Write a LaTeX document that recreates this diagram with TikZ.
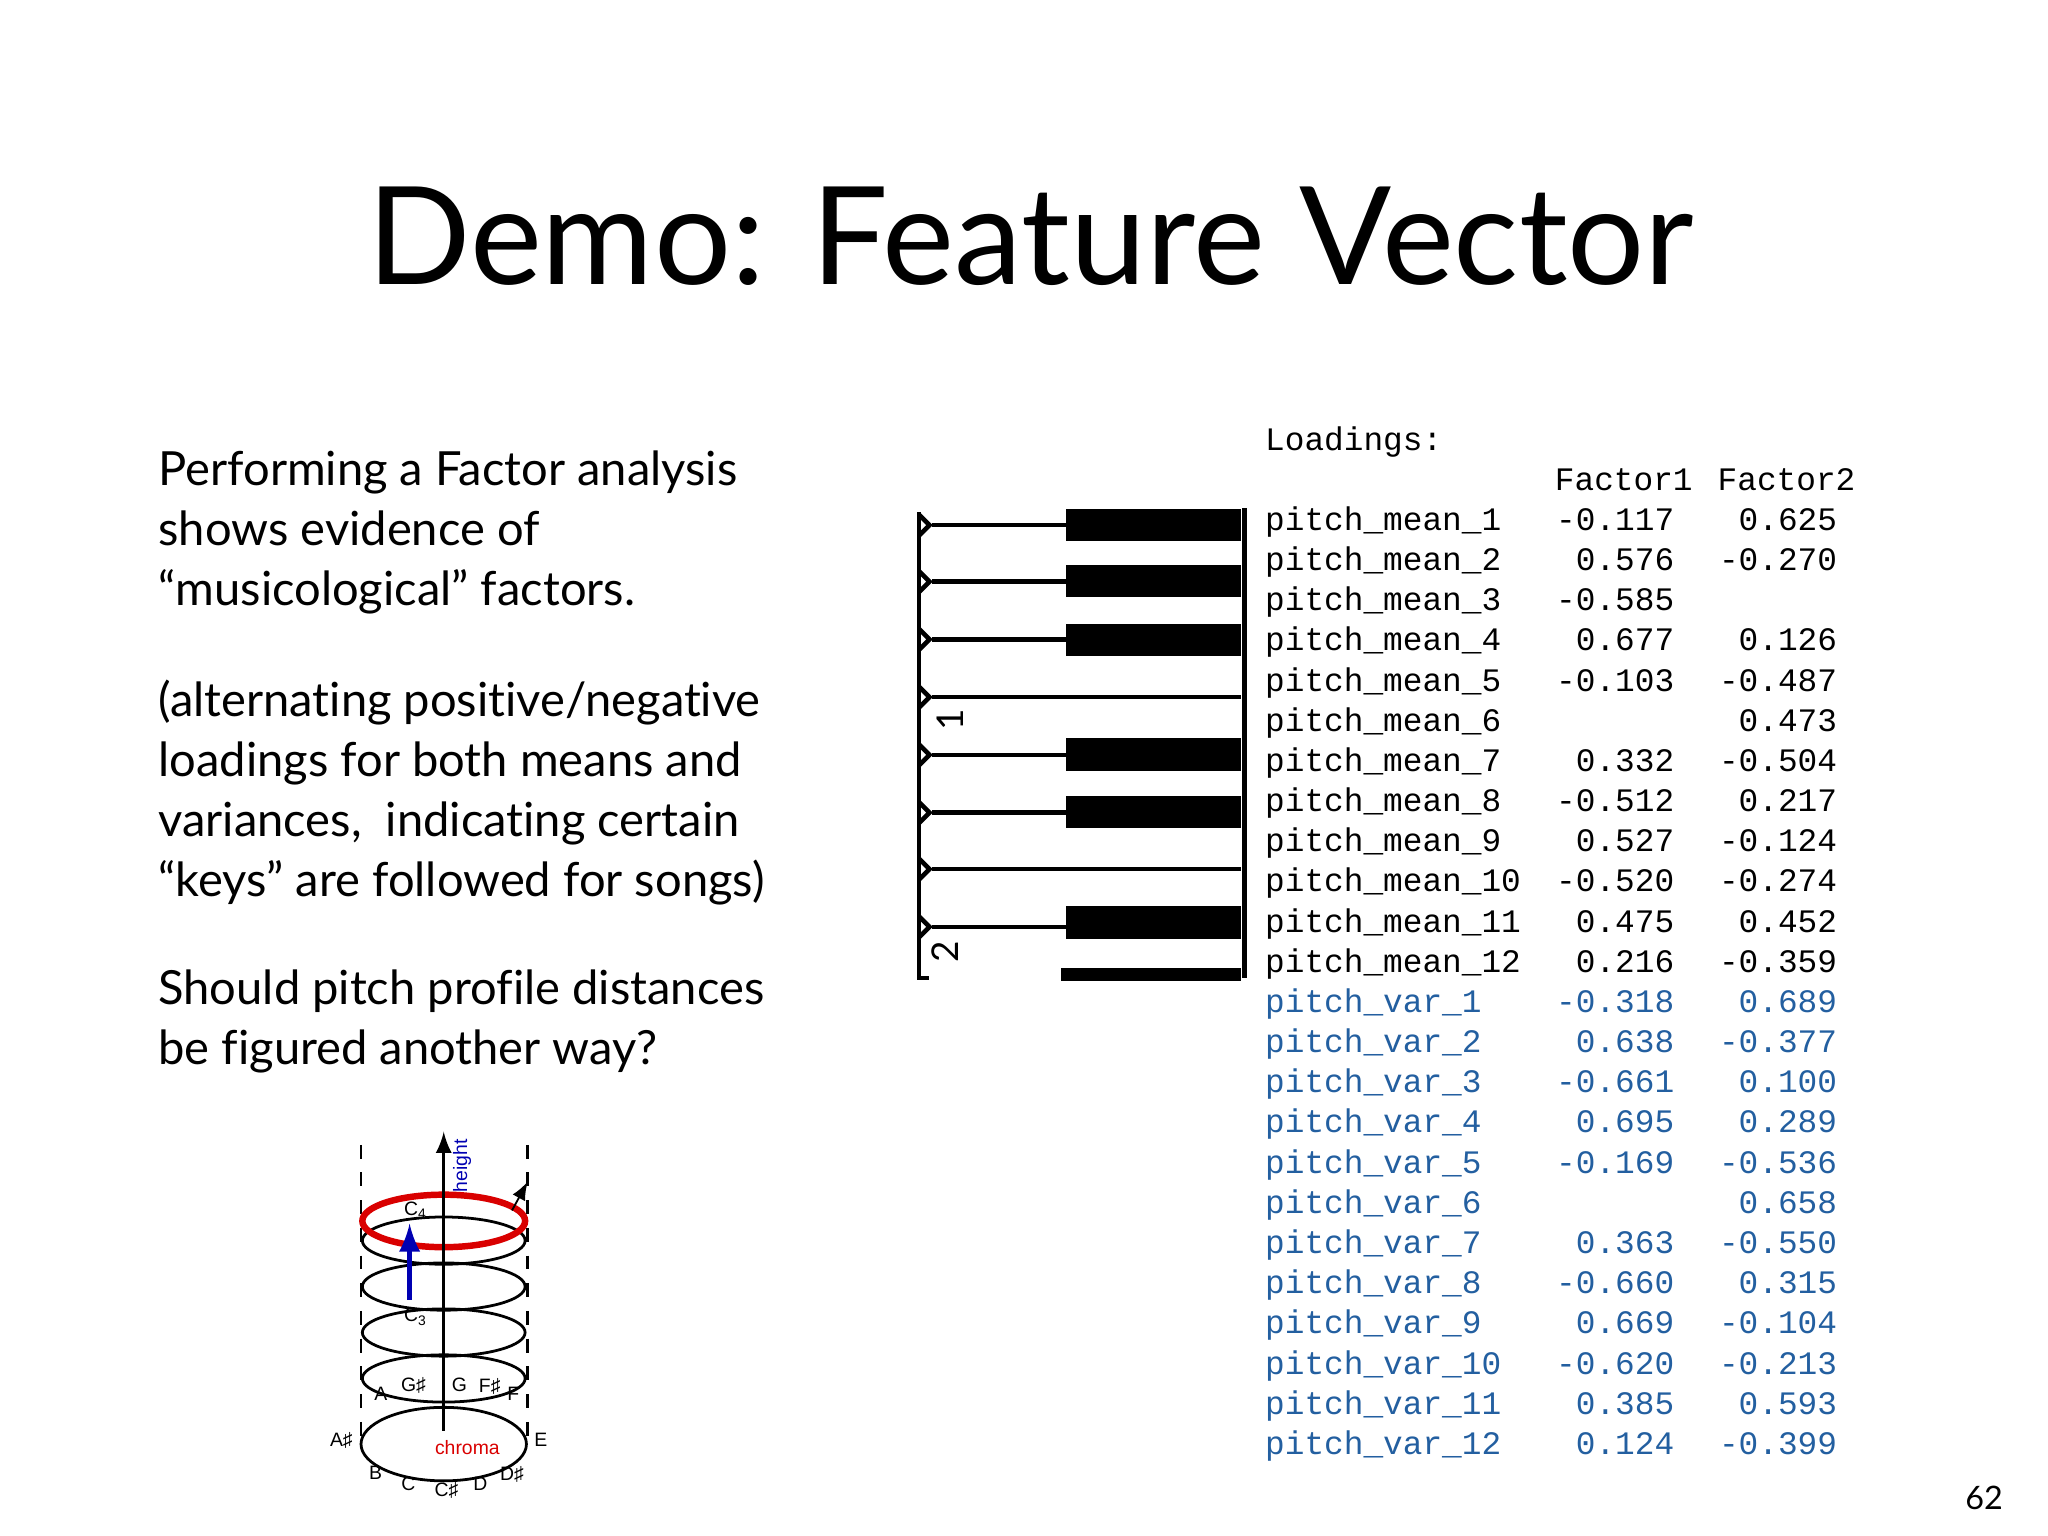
\documentclass[tikz,border=0pt]{standalone}
\usepackage{fontspec}
\setmainfont{Lato}[Ligatures={NoCommon}]
\setmonofont{Liberation Mono}
\newfontfamily\hfont{Liberation Sans}
\begin{document}
\begin{tikzpicture}[x=0.01cm,y=-0.01cm,
  body/.style={anchor=north west,align=left,font=\fontsize{10.2pt}{13pt}\selectfont,inner sep=0},
  cell/.style={anchor=base west,font=\fontsize{7.1pt}{8pt}\ttfamily,inner sep=0},
  num/.style={anchor=base east,font=\fontsize{7.1pt}{8pt}\ttfamily,inner sep=0},
  lab/.style={font=\hfont\fontsize{4.2pt}{5pt}\selectfont,inner sep=0}]
\useasboundingbox (0,0) rectangle (1560,1170);
\node (title) at (785,180) {\fontsize{29.5pt}{34pt}\selectfont Demo: Feature Vector};
\node[body] (t1) at (120,343) {Performing a Factor analysis\\shows evidence of\\“musicological” factors.};
\node[body] (t2) at (120,517) {(alternating positive/negative\\loadings for both means and\\variances,\ \ indicating certain\\“keys” are followed for songs)};
\node[body] (t3) at (120,738) {Should pitch profile distances\\be figured another way?};
\node[anchor=base east,font=\fontsize{7pt}{8pt}\selectfont] (pg) at (1538,1150) {62};
% table
\node[cell] (hd) at (963,343) {Loadings:};
\node[num] (f1) at (1290,374) {Factor1};
\node[num] (f2) at (1414,374) {Factor2};
\foreach \n/\a/\b [count=\i from 0] in {1/-0.117/0.625,2/0.576/-0.270,3/-0.585/,4/0.677/0.126,5/-0.103/-0.487,6//0.473,7/0.332/-0.504,8/-0.512/0.217,9/0.527/-0.124,10/-0.520/-0.274,11/0.475/0.452,12/0.216/-0.359}{
  \node[cell] (m\i) at (963,{404+30.6*\i}) {pitch\_mean\_\n};
  \node[num] (ma\i) at (1276,{404+30.6*\i}) {\a};
  \node[num] (mb\i) at (1400,{404+30.6*\i}) {\b};
}
\definecolor{tblue}{RGB}{35,95,160}
\foreach \n/\a/\b [count=\i from 12] in {1/-0.318/0.689,2/0.638/-0.377,3/-0.661/0.100,4/0.695/0.289,5/-0.169/-0.536,6//0.658,7/0.363/-0.550,8/-0.660/0.315,9/0.669/-0.104,10/-0.620/-0.213,11/0.385/0.593,12/0.124/-0.399}{
  \node[cell,tblue] (v\i) at (963,{404+30.6*\i}) {pitch\_var\_\n};
  \node[num,tblue] (va\i) at (1276,{404+30.6*\i}) {\a};
  \node[num,tblue] (vb\i) at (1400,{404+30.6*\i}) {\b};
}
% piano
\draw[line width=1.2pt] (948,387) -- (948,745);
\foreach \y in {400,443,487,531,575,619,662,706}{
  \draw[line width=1pt] (710,\y) -- (945,\y);
  \draw[line width=1pt] (700,\y-8) -- (708,\y) -- (700,\y+8);
}
\draw[line width=1pt] (700,390) -- (700,745) -- (708,745);
\foreach \ya/\yb in {388/412,430/455,475/500,562/587,606/631,690/715}
  \fill (812,\ya) rectangle (945,\yb);
\fill (808,737) rectangle (945,747);
\node[rotate=90,font=\fontsize{8pt}{8pt}\selectfont] (k1) at (724,548) {1};
\node[rotate=90,font=\fontsize{8pt}{8pt}\selectfont] (k2) at (720,725) {2};
% helix
\draw[dashed,semithick] (275,872) -- (275,1095) (402,872) -- (402,1095);
\foreach \y in {1050,1015,980,945}
  \draw[semithick] (338,\y) ellipse (62 and 18);
\draw[red!85!black,line width=1.4pt] (338,930) ellipse (62 and 20);
\draw[semithick] (338,1100) ellipse (63 and 28);
\draw[semithick,-latex] (338,1090) -- (338,862);
\draw[-latex] (390,922) -- (402,900);
\draw[blue!70!black,line width=1.1pt,-latex] (312,990) -- (312,932);
\node[lab,rotate=90,blue!70!black] (ht) at (352,888) {height};
\node[lab,red!85!black] (chr) at (356,1103) {chroma};
\node[lab] (c4) at (316,922) {C\raisebox{-0.3ex}{\fontsize{3pt}{3pt}\selectfont 4}};
\node[lab] (c3) at (316,1003) {C\raisebox{-0.3ex}{\fontsize{3pt}{3pt}\selectfont 3}};
\foreach \t/\x/\y in {A/290/1062,G♯/315/1055,G/350/1055,F♯/373/1056,F/391/1062,E/412/1097,A♯/260/1097,B/286/1122,C/311/1130,C♯/340/1135,D/366/1130,D♯/390/1123}
  \node[lab] at (\x,\y) {\t};
\end{tikzpicture}
\end{document}
